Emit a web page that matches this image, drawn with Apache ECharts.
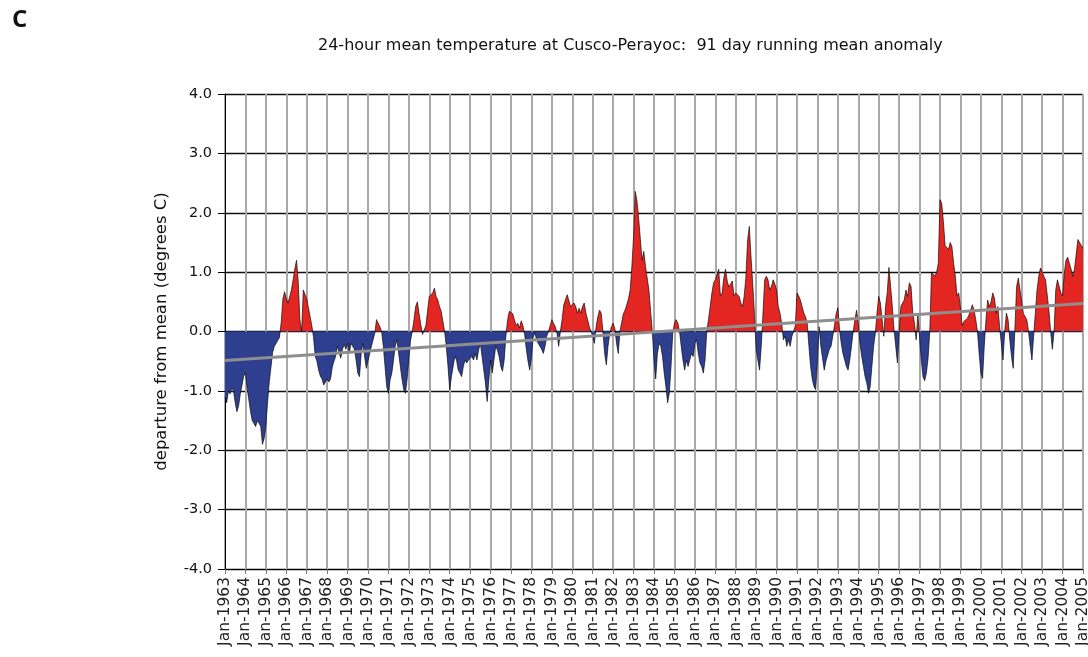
<!DOCTYPE html>
<html>
<head>
<meta charset="utf-8">
<script src="https://cdn.jsdelivr.net/npm/echarts@6/dist/echarts.min.js"></script>
<style>
html, body { margin: 0; padding: 0; background: #fff; }
#main { width: 1088px; height: 657px; }
</style>
</head>
<body>
<div id="main"></div>
<script>
// monthly values (Jan..Dec)
const monthNames = ["Jan", "Feb", "Mar", "Apr", "May", "Jun", "Jul", "Aug", "Sep", "Oct", "Nov", "Dec"]
const firstYear = 1963
const lastYear = 2005

const anom1960s = [
  -1.1, -1.2, -1.0, -1.05, -0.95, -1.0, -1.2, -1.35, -1.25, -1.05, -0.9, -0.75, // 1963
  -0.7, -0.95, -1.15, -1.35, -1.5, -1.55, -1.6, -1.5, -1.55, -1.6, -1.9, -1.8, // 1964
  -1.6, -1.2, -0.85, -0.6, -0.35, -0.25, -0.2, -0.15, -0.1, 0.15, 0.55, 0.67, // 1965
  0.55, 0.48, 0.5, 0.7, 0.87, 1.05, 1.2, 0.85, 0.2, 0.0, 0.7, 0.68, // 1966
  0.55, 0.4, 0.25, 0.1, -0.1, -0.42, -0.5, -0.65, -0.75, -0.8, -0.9, -0.85, // 1967
  -0.8, -0.85, -0.8, -0.6, -0.5, -0.42, -0.25, -0.35, -0.45, -0.3, -0.22, -0.3, // 1968
  -0.2, -0.37, -0.2, -0.25, -0.3, -0.48, -0.7, -0.76, -0.37, -0.2, -0.42, -0.62 // 1969
]
const anom1970s = [
  -0.59, -0.37, -0.25, -0.14, -0.03, 0.2, 0.17, 0.08, 0.0, -0.25, -0.59, -0.93, // 1970
  -1.04, -0.81, -0.7, -0.48, -0.25, -0.14, -0.37, -0.59, -0.81, -0.98, -1.04, -0.8, // 1971
  -0.45, -0.15, 0.0, 0.2, 0.42, 0.5, 0.3, 0.12, -0.05, -0.08, 0.1, 0.35, // 1972
  0.59, 0.62, 0.65, 0.73, 0.59, 0.53, 0.42, 0.34, 0.37, 0.0, -0.25, -0.59, // 1973
  -0.98, -0.76, -0.59, -0.42, -0.48, -0.65, -0.7, -0.76, -0.59, -0.48, -0.53, -0.48, // 1974
  -0.48, -0.42, -0.48, -0.37, -0.48, -0.31, -0.2, -0.42, -0.65, -0.87, -1.18, -0.81, // 1975
  -0.48, -0.7, -0.48, -0.25, -0.31, -0.42, -0.59, -0.67, -0.48, -0.08, 0.2, 0.34, // 1976
  0.37, 0.3, 0.2, 0.1, 0.14, 0.06, 0.18, 0.1, -0.05, -0.3, -0.5, -0.65, // 1977
  -0.45, -0.1, -0.02, -0.14, -0.2, -0.25, -0.3, -0.37, -0.25, -0.08, 0.0, 0.1, // 1978
  0.2, 0.14, 0.08, -0.03, -0.25, 0.0, 0.2, 0.45, 0.42, 0.62, 0.59, 0.42 // 1979
]
const anom1980s = [
  0.45, 0.48, 0.42, 0.31, 0.39, 0.31, 0.42, 0.48, 0.31, 0.2, 0.08, 0.0, // 1980
  -0.08, -0.2, 0.08, 0.25, 0.36, 0.31, 0.0, -0.37, -0.56, -0.25, -0.03, 0.08, // 1981
  0.14, 0.05, -0.2, -0.37, 0.0, 0.15, 0.3, 0.36, 0.45, 0.55, 0.7, 1.1, // 1982
  1.6, 2.36, 2.2, 1.9, 1.55, 1.2, 1.35, 1.1, 1.1, 0.7, 0.35, 0.0, // 1983
  -0.48, -0.8, -0.37, -0.2, -0.25, -0.42, -0.7, -0.93, -1.2, -1.04, -0.59, -0.03, // 1984
  0.14, 0.2, 0.14, 0.0, -0.25, -0.48, -0.65, -0.48, -0.59, -0.48, -0.37, -0.42, // 1985
  -0.2, -0.14, -0.37, -0.53, -0.59, -0.7, -0.48, 0.0, 0.2, 0.42, 0.65, 0.82, // 1986
  0.87, 0.95, 1.05, 0.6, 0.65, 0.9, 1.05, 0.85, 0.75, 0.8, 0.85, 0.6, // 1987
  0.65, 0.62, 0.59, 0.48, 0.42, 0.6, 0.93, 1.55, 1.77, 1.25, 0.8, 0.3, // 1988
  -0.3, -0.48, -0.65, -0.25, 0.3, 0.87, 0.93, 0.87, 0.7, 0.76, 0.87, 0.8 // 1989
]
const anom1990s = [
  0.7, 0.42, 0.31, 0.14, -0.14, -0.08, -0.25, -0.14, -0.25, -0.08, 0.0, 0.1, // 1990
  0.65, 0.6, 0.53, 0.42, 0.31, 0.25, 0.14, -0.25, -0.59, -0.81, -0.93, -0.98, // 1991
  -0.5, 0.08, -0.25, -0.45, -0.65, -0.5, -0.4, -0.3, -0.25, -0.08, 0.1, 0.3, // 1992
  0.4, 0.03, -0.2, -0.37, -0.48, -0.59, -0.65, -0.48, -0.25, 0.0, 0.2, 0.36, // 1993
  0.14, -0.2, -0.42, -0.59, -0.76, -0.87, -1.04, -0.93, -0.59, -0.25, -0.03, 0.31, // 1994
  0.59, 0.48, 0.2, -0.08, 0.42, 0.65, 1.08, 0.76, 0.42, 0.03, -0.25, -0.53, // 1995
  0.0, 0.42, 0.48, 0.53, 0.7, 0.59, 0.82, 0.76, 0.31, 0.14, -0.14, 0.3, // 1996
  -0.1, -0.48, -0.76, -0.83, -0.7, -0.45, 0.0, 1.0, 0.98, 0.93, 1.0, 1.15, // 1997
  2.22, 2.16, 1.85, 1.45, 1.43, 1.38, 1.5, 1.43, 1.15, 0.93, 0.6, 0.65, // 1998
  0.4, 0.1, 0.17, 0.2, 0.22, 0.28, 0.36, 0.45, 0.36, 0.2, 0.0, -0.37 // 1999
]
const anom2000s = [
  -0.7, -0.79, -0.25, 0.2, 0.53, 0.42, 0.5, 0.65, 0.56, 0.31, 0.42, 0.08, // 2000
  -0.2, -0.48, 0.0, 0.31, 0.2, -0.14, -0.42, -0.62, 0.05, 0.76, 0.9, 0.7, // 2001
  0.5, 0.3, 0.33, 0.2, 0.0, -0.25, -0.48, -0.08, 0.31, 0.7, 0.93, 1.07, // 2002
  1.0, 0.93, 0.87, 0.9, 0.35, 0.0, -0.3, 0.0, 0.7, 0.87, 0.9, 0.65, // 2003
  0.6, 0.98, 1.2, 1.25, 1.15, 1.05, 0.93, 1.05, 1.3, 1.55, 1.57, 1.45, // 2004
  1.4 // Jan-2005
]
// grey linear trend, start and end
const trendStart = -0.49
const trendEnd = 0.47

const anomaly = [].concat(anom1960s, anom1970s, anom1980s, anom1990s, anom2000s)
const months = []
for (let y = firstYear; y < lastYear; y++) {
  monthNames.forEach(m => months.push(m + "-" + y))
}
months.push("Jan-" + lastYear)

const red = "#e32622"
const blue = "#2f3f8f"
const isJan = (i) => i % 12 === 0

var chartDom = document.getElementById("main")
var myChart = echarts.init(chartDom)
var option = {
  animation: false,
  title: {
    text: "24-hour mean temperature at Cusco-Perayoc:  91 day running mean anomaly",
    left: 313,
    top: 33,
    textStyle: { fontFamily: "DejaVu Sans", fontSize: 16, fontWeight: "normal", color: "#111" }
  },
  graphic: [
    { type: "text", left: 12, top: 8, style: { text: "C", font: 'bold 24px "Open Sans"', fill: "#111" } }
  ],
  grid: { left: 225, right: 5, top: 94, bottom: 88, outerBoundsMode: "none" },
  visualMap: {
    show: false,
    type: "piecewise",
    seriesIndex: 0,
    dimension: 1,
    pieces: [
      { gte: -4, lt: 0, color: blue },
      { gte: 0, lte: 4, color: red }
    ]
  },
  xAxis: {
    type: "category",
    boundaryGap: false,
    data: months,
    axisLine: { onZero: false, lineStyle: { color: "#000", width: 1 } },
    axisTick: { interval: isJan, length: 5, lineStyle: { color: "#777" } },
    axisLabel: { interval: isJan, rotate: 90, margin: 8, fontFamily: "DejaVu Sans", fontSize: 15.5, color: "#222" },
    splitLine: { show: true, interval: isJan, lineStyle: { color: "#a9a9a9", width: 2 } }
  },
  yAxis: {
    type: "value",
    min: -4,
    max: 4,
    interval: 1,
    name: "departure from mean (degrees C)",
    nameLocation: "middle",
    nameGap: 55,
    nameTextStyle: { fontFamily: "DejaVu Sans", fontSize: 16.5, color: "#111" },
    axisLine: { show: true, lineStyle: { color: "#000", width: 1 } },
    axisTick: { show: true, length: 7, lineStyle: { color: "#000" } },
    axisLabel: { formatter: (v) => v.toFixed(1), margin: 13, fontFamily: "DejaVu Sans", fontSize: 14.5, color: "#111" },
    splitLine: { lineStyle: { color: "#111", width: 1.3 } }
  },
  series: [
    {
      name: "anomaly",
      type: "line",
      data: anomaly,
      showSymbol: false,
      silent: true,
      lineStyle: { width: 0 },
      areaStyle: { opacity: 1 },
      z: 2
    },
    {
      name: "outline",
      type: "line",
      data: anomaly,
      showSymbol: false,
      silent: true,
      lineStyle: { color: "#000", width: 0.8, opacity: 0.8 },
      z: 3
    },
    {
      name: "trend",
      type: "line",
      data: [[months[0], trendStart], [months[months.length - 1], trendEnd]],
      showSymbol: false,
      silent: true,
      lineStyle: { color: "#8e8e8e", width: 3 },
      z: 4
    }
  ]
}

option && myChart.setOption(option)
</script>
</body>
</html>
